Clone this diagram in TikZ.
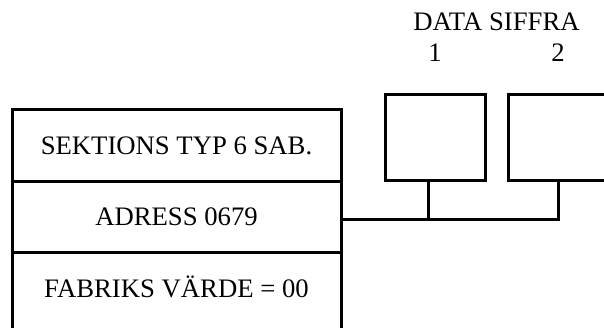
\documentclass[tikz,border=0pt]{standalone}
\usepackage{fontspec}
\setmainfont{Liberation Serif}
\usetikzlibrary{positioning,calc}

\begin{document}
\begin{tikzpicture}[
  x=1pt, y=1pt,
  font=\fontsize{26.7}{31}\selectfont,
  line width=3pt,
  cell/.style={draw, rectangle, outer sep=0pt, inner sep=0pt, minimum width=329pt, minimum height=71pt},
  digit/.style={draw, rectangle, outer sep=0pt, inner sep=0pt, minimum width=100pt, minimum height=85.5pt},
  lbl/.style={inner sep=0pt},
]
\clip (0,0) rectangle (604,327);
% --- section register ---
\node[cell] (sek) at (176.5,181.5) {SEKTIONS TYP 6 SAB.};
\node[cell, below=0pt of sek] (adr) {ADRESS 0679};
\node[cell, below=0pt of adr, minimum height=80pt, text depth=10pt] (fab) {FABRIKS VÄRDE = 00};

% --- data digits ---
\node[digit] (d1) at (435,189.25) {};
\node[digit, right=23pt of d1] (d2) {};
\node[lbl, above=32pt of d1] (n1) {1};
\node[lbl, above=32pt of d2] (n2) {2};
\node[lbl, anchor=base] (title) at ($(n1.base)!0.5!(n2.base)+(0,31)$) {DATA SIFFRA};

% --- bus ---
\coordinate (bus) at ([yshift=-3pt]adr.east);
\draw (bus) -| (d2.south);
\draw ([xshift=-6.5pt]d1.south) -- ([xshift=-6.5pt]d1.south |- bus);
\end{tikzpicture}
\end{document}
